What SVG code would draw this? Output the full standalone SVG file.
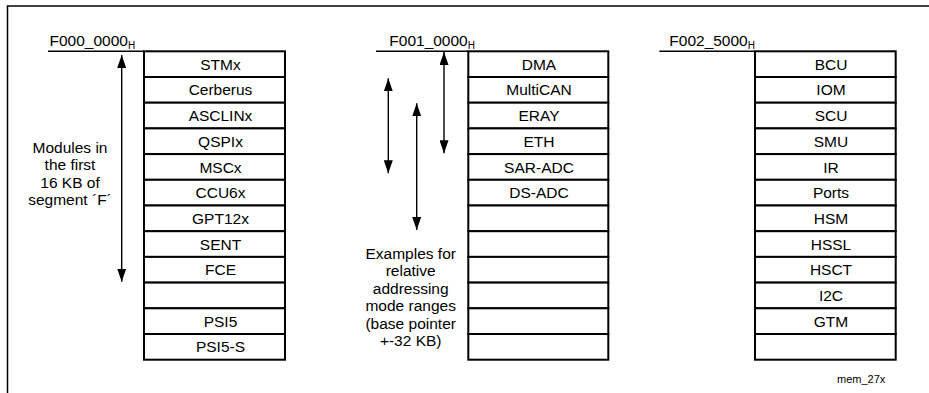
<svg xmlns="http://www.w3.org/2000/svg" width="929" height="393" viewBox="0 0 929 393">
<defs>
<style>
text{font-family:"Liberation Sans",Arial,sans-serif;fill:#000}
.t{font-size:15.5px;text-anchor:middle}
.lab{font-size:15.5px}
.sub{font-size:10px}
.note{font-size:15.5px;text-anchor:middle}
.cell{fill:#fff;stroke:#000;stroke-width:2}
.hl{stroke:#000;stroke-width:1.5;fill:none}
.ar{stroke:#000;stroke-width:1.4;fill:none;marker-start:url(#ah);marker-end:url(#ah)}
.ar1{stroke:#000;stroke-width:1.4;fill:none;marker-start:url(#ah);marker-end:url(#ah)}
</style>
<marker id="ah" viewBox="0 0 13 9" refX="13" refY="4.5" markerWidth="13" markerHeight="9" markerUnits="userSpaceOnUse" orient="auto-start-reverse">
<path d="M0,0 L13,4.5 L0,9 z" fill="#000"/>
</marker>
</defs>
<g id="frame">
<path d="M929,6 H7.5 V393" class="hl"/>
</g>
<g id="col1">
<line x1="48" y1="51.3" x2="144" y2="51.3" class="hl"/>
<text x="49.5" y="46" class="lab">F000_0000<tspan class="sub" dy="3">H</tspan></text>
<g id="c1cells">
<rect x="144" y="51.3" width="141" height="25.7" class="cell"/>
<rect x="144" y="77" width="141" height="25.7" class="cell"/>
<rect x="144" y="102.7" width="141" height="25.7" class="cell"/>
<rect x="144" y="128.4" width="141" height="25.7" class="cell"/>
<rect x="144" y="154.1" width="141" height="25.7" class="cell"/>
<rect x="144" y="179.8" width="141" height="25.7" class="cell"/>
<rect x="144" y="205.5" width="141" height="25.7" class="cell"/>
<rect x="144" y="231.2" width="141" height="25.7" class="cell"/>
<rect x="144" y="256.9" width="141" height="25.7" class="cell"/>
<rect x="144" y="282.6" width="141" height="25.7" class="cell"/>
<rect x="144" y="308.3" width="141" height="25.7" class="cell"/>
<rect x="144" y="334" width="141" height="25.7" class="cell"/>
</g>
<text x="220.5" y="69.7" class="t">STMx</text>
<text x="220.5" y="95.4" class="t">Cerberus</text>
<text x="220.5" y="121.1" class="t">ASCLINx</text>
<text x="220.5" y="146.8" class="t">QSPIx</text>
<text x="220.5" y="172.5" class="t">MSCx</text>
<text x="220.5" y="198.2" class="t">CCU6x</text>
<text x="220.5" y="223.9" class="t">GPT12x</text>
<text x="220.5" y="249.6" class="t">SENT</text>
<text x="220.5" y="275.3" class="t">FCE</text>
<text x="220.5" y="326.7" class="t">PSI5</text>
<text x="220.5" y="352.4" class="t">PSI5-S</text>
<text class="note"><tspan x="70" y="152.5">Modules in</tspan><tspan x="70" y="170">the first</tspan><tspan x="70" y="187.5">16 KB of</tspan><tspan x="70" y="205">segment ´F´</tspan></text>
</g>
<g id="col2">
<line x1="376" y1="51.3" x2="468.3" y2="51.3" class="hl"/>
<text x="389.3" y="46" class="lab">F001_0000<tspan class="sub" dy="3">H</tspan></text>
<g id="c2cells">
<rect x="468.3" y="51.3" width="140" height="25.7" class="cell"/>
<rect x="468.3" y="77" width="140" height="25.7" class="cell"/>
<rect x="468.3" y="102.7" width="140" height="25.7" class="cell"/>
<rect x="468.3" y="128.4" width="140" height="25.7" class="cell"/>
<rect x="468.3" y="154.1" width="140" height="25.7" class="cell"/>
<rect x="468.3" y="179.8" width="140" height="25.7" class="cell"/>
<rect x="468.3" y="205.5" width="140" height="25.7" class="cell"/>
<rect x="468.3" y="231.2" width="140" height="25.7" class="cell"/>
<rect x="468.3" y="256.9" width="140" height="25.7" class="cell"/>
<rect x="468.3" y="282.6" width="140" height="25.7" class="cell"/>
<rect x="468.3" y="308.3" width="140" height="25.7" class="cell"/>
<rect x="468.3" y="334" width="140" height="25.7" class="cell"/>
</g>
<text x="539" y="69.7" class="t">DMA</text>
<text x="539" y="95.4" class="t">MultiCAN</text>
<text x="539" y="121.1" class="t">ERAY</text>
<text x="539" y="146.8" class="t">ETH</text>
<text x="539" y="172.5" class="t">SAR-ADC</text>
<text x="539" y="198.2" class="t">DS-ADC</text>
<text class="note"><tspan x="410.7" y="259">Examples for</tspan><tspan x="410.7" y="276.4">relative</tspan><tspan x="410.7" y="293.8">addressing</tspan><tspan x="410.7" y="311.2">mode ranges</tspan><tspan x="410.7" y="328.6">(base pointer</tspan><tspan x="410.7" y="346">+-32 KB)</tspan></text>
</g>
<g id="col3">
<line x1="659.3" y1="51.3" x2="755" y2="51.3" class="hl"/>
<text x="669.3" y="46" class="lab">F002_5000<tspan class="sub" dy="3">H</tspan></text>
<g id="c3cells">
<rect x="755" y="51.3" width="140.7" height="25.7" class="cell"/>
<rect x="755" y="77" width="140.7" height="25.7" class="cell"/>
<rect x="755" y="102.7" width="140.7" height="25.7" class="cell"/>
<rect x="755" y="128.4" width="140.7" height="25.7" class="cell"/>
<rect x="755" y="154.1" width="140.7" height="25.7" class="cell"/>
<rect x="755" y="179.8" width="140.7" height="25.7" class="cell"/>
<rect x="755" y="205.5" width="140.7" height="25.7" class="cell"/>
<rect x="755" y="231.2" width="140.7" height="25.7" class="cell"/>
<rect x="755" y="256.9" width="140.7" height="25.7" class="cell"/>
<rect x="755" y="282.6" width="140.7" height="25.7" class="cell"/>
<rect x="755" y="308.3" width="140.7" height="25.7" class="cell"/>
<rect x="755" y="334" width="140.7" height="25.7" class="cell"/>
</g>
<text x="831" y="69.7" class="t">BCU</text>
<text x="831" y="95.4" class="t">IOM</text>
<text x="831" y="121.1" class="t">SCU</text>
<text x="831" y="146.8" class="t">SMU</text>
<text x="831" y="172.5" class="t">IR</text>
<text x="831" y="198.2" class="t">Ports</text>
<text x="831" y="223.9" class="t">HSM</text>
<text x="831" y="249.6" class="t">HSSL</text>
<text x="831" y="275.3" class="t">HSCT</text>
<text x="831" y="301" class="t">I2C</text>
<text x="831" y="326.7" class="t">GTM</text>
</g>
<g id="connectors">
<line x1="121.7" y1="55" x2="121.7" y2="281.7" class="ar1"/>
<line x1="444" y1="52" x2="444" y2="153.3" class="ar"/>
<line x1="388.3" y1="78.3" x2="388.3" y2="173.3" class="ar"/>
<line x1="416.7" y1="103.3" x2="416.7" y2="230" class="ar"/>
</g>
<text x="837" y="382.7" style="font-size:11px">mem_27x</text>
</svg>
